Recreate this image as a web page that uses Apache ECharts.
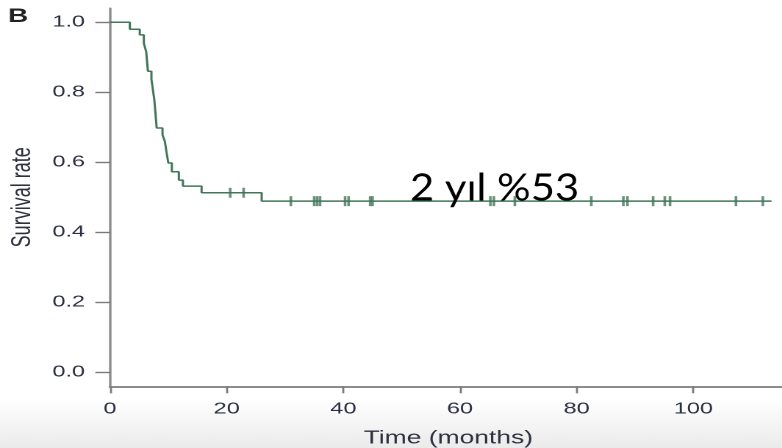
<!DOCTYPE html>
<html>
<head>
<meta charset="utf-8">
<script src="https://cdn.jsdelivr.net/npm/echarts@6/dist/echarts.min.js"></script>
<style>
  html, body { margin: 0; padding: 0; background: #fff; overflow: hidden; }
  #wrap { position: absolute; left: 0; top: 0; width: 782px; height: 448px; overflow: hidden; }
  /* the figure is drawn narrow and widened, as in the printed panel */
  #chart { width: 532px; height: 448px; transform: scaleX(1.47); transform-origin: 0 0; }
</style>
</head>
<body>
<div id="wrap"><div id="chart"></div></div>
<script>
// Kaplan-Meier estimate: event times (months) and survival after each drop
const eventTimes = [0, 3.4, 5.1, 5.8, 6.2, 6.5, 7.1, 7.6, 8.0, 9.0, 9.4, 9.7, 10.0, 10.6, 11.8, 12.5, 15.7, 26.0];
const survival   = [1.0, 0.98, 0.964, 0.94, 0.916, 0.86, 0.837, 0.778, 0.698, 0.678, 0.66, 0.627, 0.598, 0.573, 0.549, 0.532, 0.513, 0.489];
const lastFollowUp = 113.4;

// censored observations (months)
const censorTimes = [20.6, 22.9, 31.0, 35.0, 35.5, 36.0, 40.3, 40.9, 44.6, 45.0, 65.2, 65.8, 69.4, 82.5, 88.0, 88.7, 93.1, 95.1, 96.0, 107.3, 111.9];

const xTicks = [0, 20, 40, 60, 80, 100];
const yTicks = [0, 0.2, 0.4, 0.6, 0.8, 1.0];

const xTitle = 'Time (months)';
const yTitle = 'Survival rate';
const panelLabel = 'B';
const noteText = '2 yıl %53';

const SX = 1.47;               // horizontal widening of the panel
const FONT = "'Liberation Sans', Arial, sans-serif";
const GREEN = '#42765a';

function survAt(t) {
  let s = survival[0];
  for (let i = 0; i < eventTimes.length; i++) {
    if (eventTimes[i] <= t) s = survival[i];
  }
  return s;
}

const curve = eventTimes.map((t, i) => [t, survival[i]]);
curve.push([lastFollowUp, survival[survival.length - 1]]);
const marks = censorTimes.map(t => [t, survAt(t)]);

const chart = echarts.init(document.getElementById('chart'), null, { renderer: 'canvas', devicePixelRatio: 2 });

chart.setOption({
  animation: false,
  backgroundColor: new echarts.graphic.LinearGradient(0, 0, 0, 1, [
    { offset: 0, color: '#ffffff' },
    { offset: 0.89, color: '#ffffff' },
    { offset: 1, color: '#ebebeb' }
  ]),
  grid: { left: 110 / SX, top: 8.3, width: 676.7 / SX, height: 378, outerBoundsMode: 'none' },
  xAxis: {
    type: 'value', min: 0, max: 116,
    name: xTitle, nameLocation: 'middle', nameGap: 43,
    nameTextStyle: { fontFamily: FONT, fontSize: 18, color: '#2e3140' },
    axisLine: { onZero: false, lineStyle: { color: '#8c8c8c', width: 2 } },
    axisTick: { customValues: xTicks, length: 7, lineStyle: { color: '#7a7a7a', width: 1.4 } },
    axisLabel: { customValues: xTicks, margin: 15, fontFamily: FONT, fontSize: 16, color: '#2c3042' },
    splitLine: { show: false }
  },
  yAxis: {
    type: 'value', min: -0.04, max: 1.04,
    name: yTitle, nameLocation: 'middle', nameGap: 49,
    nameTextStyle: { fontFamily: FONT, fontSize: 18, color: '#2e3140' },
    axisLine: { onZero: false, lineStyle: { color: '#8c8c8c', width: 1.7 } },
    axisTick: { customValues: yTicks, length: 10, lineStyle: { color: '#7a7a7a', width: 1.4 } },
    axisLabel: { customValues: yTicks, margin: 17, fontFamily: FONT, fontSize: 16, color: '#2c3042',
                 formatter: v => v.toFixed(1) },
    splitLine: { show: false }
  },
  series: [
    {
      type: 'line', step: 'end', data: curve, showSymbol: false,
      lineStyle: { color: GREEN, width: 1.5 }, z: 3
    },
    {
      type: 'scatter', data: marks, symbol: 'rect', symbolSize: [1.8, 10],
      itemStyle: { color: GREEN }, z: 4
    }
  ],
  graphic: [
    {
      type: 'text', x: 5.5, y: 17,
      style: { text: panelLabel, font: "bold 19px " + FONT, fill: '#222', verticalAlign: 'middle' }
    },
    {
      type: 'text', x: 410 / SX, y: 188, scaleX: 1.1 / SX, z: 10,
      style: { text: noteText, font: "38px Lato, 'Open Sans', sans-serif", fill: '#000', verticalAlign: 'middle' }
    }
  ]
});
</script>
</body>
</html>
